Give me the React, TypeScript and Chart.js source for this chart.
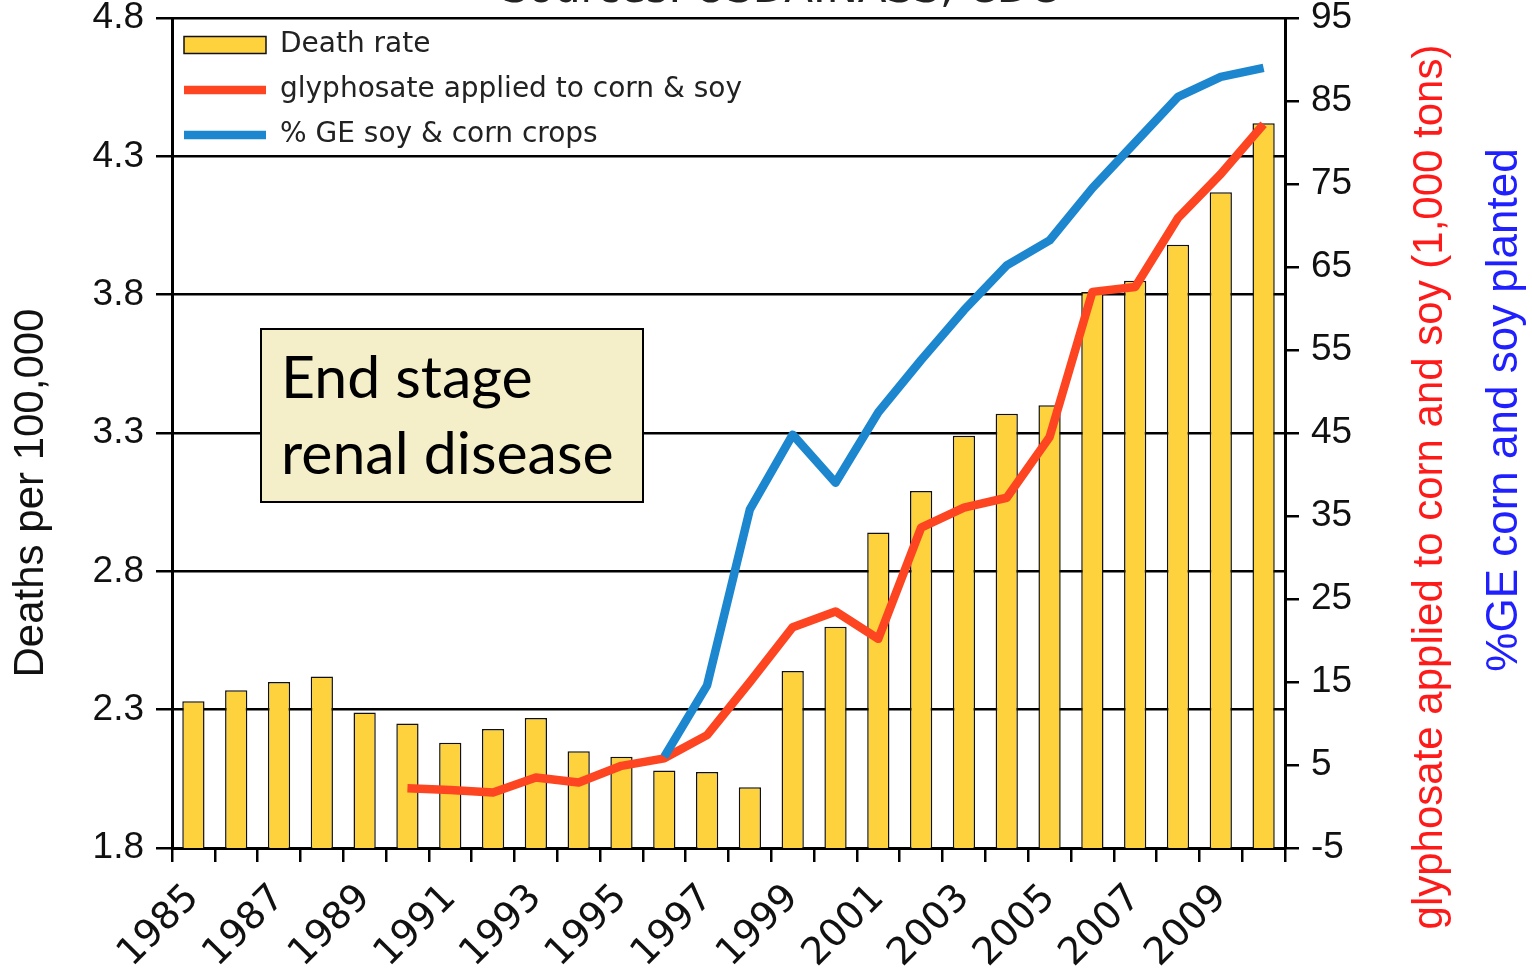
import React, { useEffect, useRef } from 'react';
import { Chart, registerables } from 'chart.js';

Chart.register(...registerables);

const years = ['1985', '1986', '1987', '1988', '1989', '1990', '1991', '1992', '1993', '1994', '1995', '1996', '1997', '1998', '1999', '2000', '2001', '2002', '2003', '2004', '2005', '2006', '2007', '2008', '2009', '2010'];

const deathRate = [2.33, 2.37, 2.40, 2.42, 2.29, 2.25, 2.18, 2.23, 2.27, 2.15, 2.13, 2.08, 2.075, 2.02, 2.44, 2.60, 2.94, 3.09, 3.29, 3.37, 3.40, 3.81, 3.85, 3.98, 4.17, 4.42];

const glyphosate = [null, null, null, null, null, 2.2, 2.0, 1.7, 3.5, 2.9, 4.9, 5.8, 8.6, 15.0, 21.6, 23.5, 20.2, 33.6, 36.0, 37.2, 44.5, 62.0, 62.6, 70.9, 76.2, 82.2];

const gePercent = [null, null, null, null, null, null, null, null, null, null, null, 6.0, 14.6, 35.8, 44.8, 39.0, 47.5, 53.8, 59.8, 65.2, 68.2, 74.5, 80.0, 85.5, 87.9, 89.0];

const seriesLabels = ['Death rate', 'glyphosate applied to corn & soy', '% GE soy & corn crops'];
const leftTitle = 'Deaths per 100,000';
const redTitle = 'glyphosate applied to corn and soy (1,000 tons)';
const blueTitle = '%GE corn and soy planted';
const topTitle = 'Sources: USDA:NASS; CDC';
const boxLines = ['End stage', 'renal disease'];

const BAR_COLOR = '#FDD23C';
const RED = '#FE4521';
const BLUE = '#1C87CF';
const SANS = "'Liberation Sans', Arial, sans-serif";
const DEJAVU = "'DejaVu Sans', sans-serif";

const overlayPlugin = {
  id: 'overlay',
  afterLayout(chart: any) {
    const lg = chart.legend;
    const ca = chart.chartArea;
    if (lg && ca) {
      const w = lg.width;
      const h = lg.height;
      lg.left = ca.left - 5;
      lg.top = ca.top - 4;
      lg.right = lg.left + w;
      lg.bottom = lg.top + Math.max(h, 300);
    }
  },
  afterDatasetsDraw(chart: any) {
    const ctx = chart.ctx;
    ctx.save();
    ctx.fillStyle = '#F4EFC8';
    ctx.strokeStyle = '#000';
    ctx.lineWidth = 2;
    ctx.fillRect(261, 329, 382, 173);
    ctx.strokeRect(261, 329, 382, 173);
    ctx.fillStyle = '#000';
    ctx.font = "59px Lato, 'Open Sans', sans-serif";
    ctx.textAlign = 'left';
    ctx.textBaseline = 'alphabetic';
    ctx.fillText(boxLines[0], 281, 398);
    ctx.fillText(boxLines[1], 281, 474);
    ctx.restore();
  },
  afterDraw(chart: any) {
    const ctx = chart.ctx;
    ctx.save();
    ctx.fillStyle = '#222';
    ctx.font = `42px ${DEJAVU}`;
    ctx.textAlign = 'center';
    ctx.textBaseline = 'alphabetic';
    ctx.fillText(topTitle, 780, 2);

    const rot = (text: string, x: number, y: number, color: string, size: number) => {
      ctx.save();
      ctx.translate(x, y);
      ctx.rotate(-Math.PI / 2);
      ctx.fillStyle = color;
      ctx.font = `${size}px ${SANS}`;
      ctx.textAlign = 'center';
      ctx.textBaseline = 'middle';
      ctx.fillText(text, 0, 0);
      ctx.restore();
    };
    rot(leftTitle, 31, 493, '#111', 42);
    rot(redTitle, 1430, 487, '#FF1A1A', 42);
    rot(blueTitle, 1505, 410, '#1F1FFF', 44);
    ctx.restore();
  },
};

export default function App() {
  const ref = useRef<HTMLCanvasElement | null>(null);

  useEffect(() => {
    document.body.style.margin = '0';
    const canvas = ref.current;
    if (!canvas) return;
    const chart = new Chart(canvas, {
      type: 'bar',
      data: {
        labels: years,
        datasets: [
          {
            type: 'bar',
            label: seriesLabels[0],
            data: deathRate,
            backgroundColor: BAR_COLOR,
            borderColor: '#111',
            borderWidth: 1.5,
            barPercentage: 0.52,
            categoryPercentage: 1,
            yAxisID: 'y',
            order: 3,
          } as any,
          {
            type: 'line',
            label: seriesLabels[1],
            data: glyphosate,
            borderColor: RED,
            backgroundColor: RED,
            borderWidth: 8.5,
            pointRadius: 0,
            tension: 0,
            borderJoinStyle: 'round',
            yAxisID: 'y1',
            order: 2,
          } as any,
          {
            type: 'line',
            label: seriesLabels[2],
            data: gePercent,
            borderColor: BLUE,
            backgroundColor: BLUE,
            borderWidth: 8.5,
            pointRadius: 0,
            tension: 0,
            borderJoinStyle: 'round',
            yAxisID: 'y1',
            order: 1,
          } as any,
        ],
      },
      options: {
        responsive: false,
        animation: false,
        devicePixelRatio: 1,
        layout: { padding: { top: 18, left: 0, right: 0, bottom: 0 } },
        plugins: {
          tooltip: { enabled: false },
          legend: {
            position: 'chartArea' as any,
            align: 'start',
            labels: {
              usePointStyle: true,
              pointStyleWidth: 82,
              boxHeight: 17,
              padding: 17,
              color: '#222',
              font: { family: DEJAVU, size: 28 },
              sort: (a: any, b: any) => a.datasetIndex - b.datasetIndex,
              generateLabels: (c: any) =>
                c.data.datasets.map((ds: any, i: number) => ({
                  text: ds.label,
                  datasetIndex: i,
                  fillStyle: i === 0 ? BAR_COLOR : ds.borderColor,
                  strokeStyle: i === 0 ? '#111' : ds.borderColor,
                  lineWidth: i === 0 ? 1.5 : 8.5,
                  pointStyle: i === 0 ? 'rect' : 'line',
                  hidden: false,
                  fontColor: '#222',
                })),
            },
          },
        },
        scales: {
          x: {
            type: 'category',
            offset: true,
            grid: {
              offset: true,
              drawOnChartArea: false,
              drawTicks: true,
              tickLength: 14,
              color: '#000',
              lineWidth: 2.5,
            },
            border: { display: true, color: '#000', width: 3 },
            ticks: {
              autoSkip: false,
              maxRotation: 45,
              minRotation: 45,
              padding: 14,
              color: '#111',
              font: { family: DEJAVU, size: 38 },
              callback: (_v: any, i: number) => (i % 2 === 0 ? years[i] : ''),
            },
            afterFit: (s: any) => {
              s.height = 122;
              s.paddingLeft = 0;
              s.paddingRight = 0;
            },
          },
          y: {
            type: 'linear',
            position: 'left',
            min: 1.8,
            max: 4.8,
            beginAtZero: false,
            grid: {
              drawOnChartArea: true,
              drawTicks: true,
              tickLength: 16,
              color: '#000',
              lineWidth: 2.5,
            },
            border: { display: true, color: '#000', width: 3 },
            ticks: {
              stepSize: 0.5,
              padding: 12,
              color: '#111',
              font: { family: SANS, size: 37 },
              callback: (v: any) => Number(v).toFixed(1),
            },
            afterFit: (s: any) => {
              s.width = 172;
              s.paddingTop = 0;
              s.paddingBottom = 0;
            },
          },
          y1: {
            type: 'linear',
            position: 'right',
            min: -5,
            max: 95,
            beginAtZero: false,
            grid: {
              drawOnChartArea: false,
              drawTicks: true,
              tickLength: 14,
              color: '#000',
              lineWidth: 2.5,
            },
            border: { display: true, color: '#000', width: 3 },
            ticks: {
              stepSize: 10,
              padding: 12,
              color: '#111',
              font: { family: SANS, size: 37 },
            },
            afterFit: (s: any) => {
              s.width = 247;
              s.paddingTop = 0;
              s.paddingBottom = 0;
            },
          },
        },
      } as any,
      plugins: [overlayPlugin],
    });
    return () => chart.destroy();
  }, []);

  return (
    <canvas
      ref={ref}
      width={1532}
      height={970}
      style={{ display: 'block', position: 'absolute', left: 0, top: 0, width: 1532, height: 970 }}
    />
  );
}
